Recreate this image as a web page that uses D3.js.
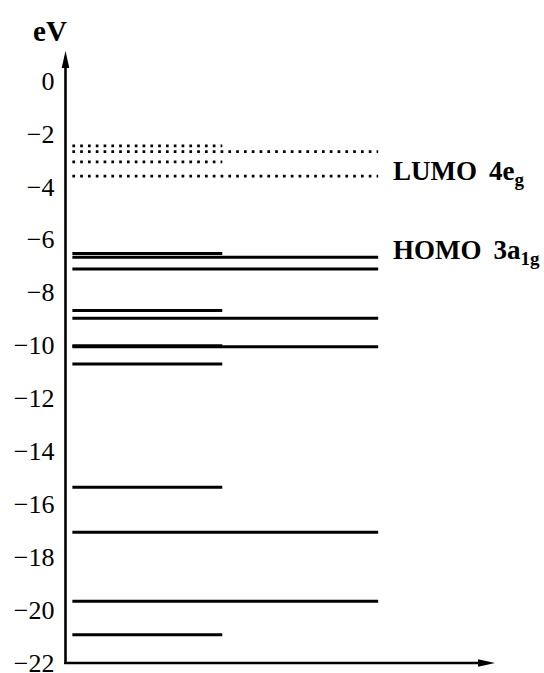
<!DOCTYPE html>
<html>
<head>
<meta charset="utf-8">
<script src="https://cdn.jsdelivr.net/npm/d3@7"></script>
<style>
  html, body { margin: 0; padding: 0; background: #fff; }
  svg { display: block; }
  .tick text { font-family: "Liberation Serif", serif !important; }
</style>
</head>
<body>
<div id="chart"></div>
<script>
// ---- data (eV) ----
const tickValues = [0, -2, -4, -6, -8, -10, -12, -14, -16, -18, -20, -22];
const shortSolidLevels = [-6.53, -8.69, -10.02, -10.71, -15.36, -20.93];
const longSolidLevels  = [-6.68, -7.12, -8.98, -10.06, -17.06, -19.67];
const shortDottedLevels = [-2.47, -3.07];
const longDottedLevels  = [-2.69, -3.61];
const annotations = [
  { main: "LUMO", num: "4e", sub: "g" },
  { main: "HOMO", num: "3a", sub: "1g" }
];

// ---- layout ----
const W = 544, H = 673;
const SERIF = "'Liberation Serif', 'Times New Roman', serif";
const svg = d3.select("#chart").append("svg").attr("width", W).attr("height", H);

const y = d3.scaleLinear().domain([0, -22]).range([80.5, 663]);
const x = d3.scaleLinear().domain([0, 1]).range([65.5, 495]);
const lineStart = 0.016, shortEnd = 0.365, longEnd = 0.728;

// y-axis labels
const yAxis = d3.axisLeft(y)
  .tickValues(tickValues)
  .tickSize(0)
  .tickPadding(11)
  .tickFormat(d => d === 0 ? "0" : "\u2212" + Math.abs(d));
const gy = svg.append("g").attr("transform", `translate(${x(0)},0)`).call(yAxis);
gy.attr("font-family", SERIF).attr("font-size", 26);
gy.select(".domain").remove();
gy.selectAll("text")
  .style("font-size", "26px")
  .attr("dy", "0.33em")
  .attr("fill", "#000");

// axis lines with arrows
const axisColor = "#000";
svg.append("line")
  .attr("x1", x(0)).attr("x2", x(0))
  .attr("y1", y(-22) + 1).attr("y2", 64)
  .attr("stroke", axisColor).attr("stroke-width", 2.6);
svg.append("path")
  .attr("d", `M${x(0)},51 L${x(0) - 3.8},68 L${x(0) + 3.8},68 Z`)
  .attr("fill", axisColor);
svg.append("line")
  .attr("x1", x(0) - 1.3).attr("x2", 482)
  .attr("y1", y(-22)).attr("y2", y(-22))
  .attr("stroke", axisColor).attr("stroke-width", 2.6);
svg.append("path")
  .attr("d", `M${x(1)},${y(-22)} L${x(1) - 17},${y(-22) - 3.8} L${x(1) - 17},${y(-22) + 3.8} Z`)
  .attr("fill", axisColor);

// eV label
svg.append("text")
  .attr("x", 50).attr("y", 41)
  .attr("text-anchor", "middle")
  .style("font-family", SERIF)
  .style("font-size", "29px").style("font-weight", "bold")
  .text("eV");

// energy levels
function drawLevels(levels, end, dotted) {
  svg.append("g").selectAll("line").data(levels).join("line")
    .attr("x1", x(lineStart)).attr("x2", x(end))
    .attr("y1", d => y(d)).attr("y2", d => y(d))
    .attr("stroke", "#000")
    .attr("stroke-width", dotted ? 2.7 : 3)
    .attr("stroke-dasharray", dotted ? "2.7,5.1" : null);
}
drawLevels(longSolidLevels, longEnd, false);
drawLevels(shortSolidLevels, shortEnd, false);
drawLevels(longDottedLevels, longEnd, true);
drawLevels(shortDottedLevels, shortEnd, true);

// annotations
const ann = svg.append("g").selectAll("text").data(annotations).join("text")
  .attr("x", 393)
  .attr("y", (d, i) => i === 0 ? 180 : 259)
  .style("font-family", SERIF)
  .style("font-size", "27px").style("font-weight", "bold");
ann.append("tspan").text(d => d.main);
ann.append("tspan").attr("dx", 12).text(d => d.num);
ann.append("tspan").style("font-size", "19px").attr("dy", 6).text(d => d.sub);
</script>
</body>
</html>
